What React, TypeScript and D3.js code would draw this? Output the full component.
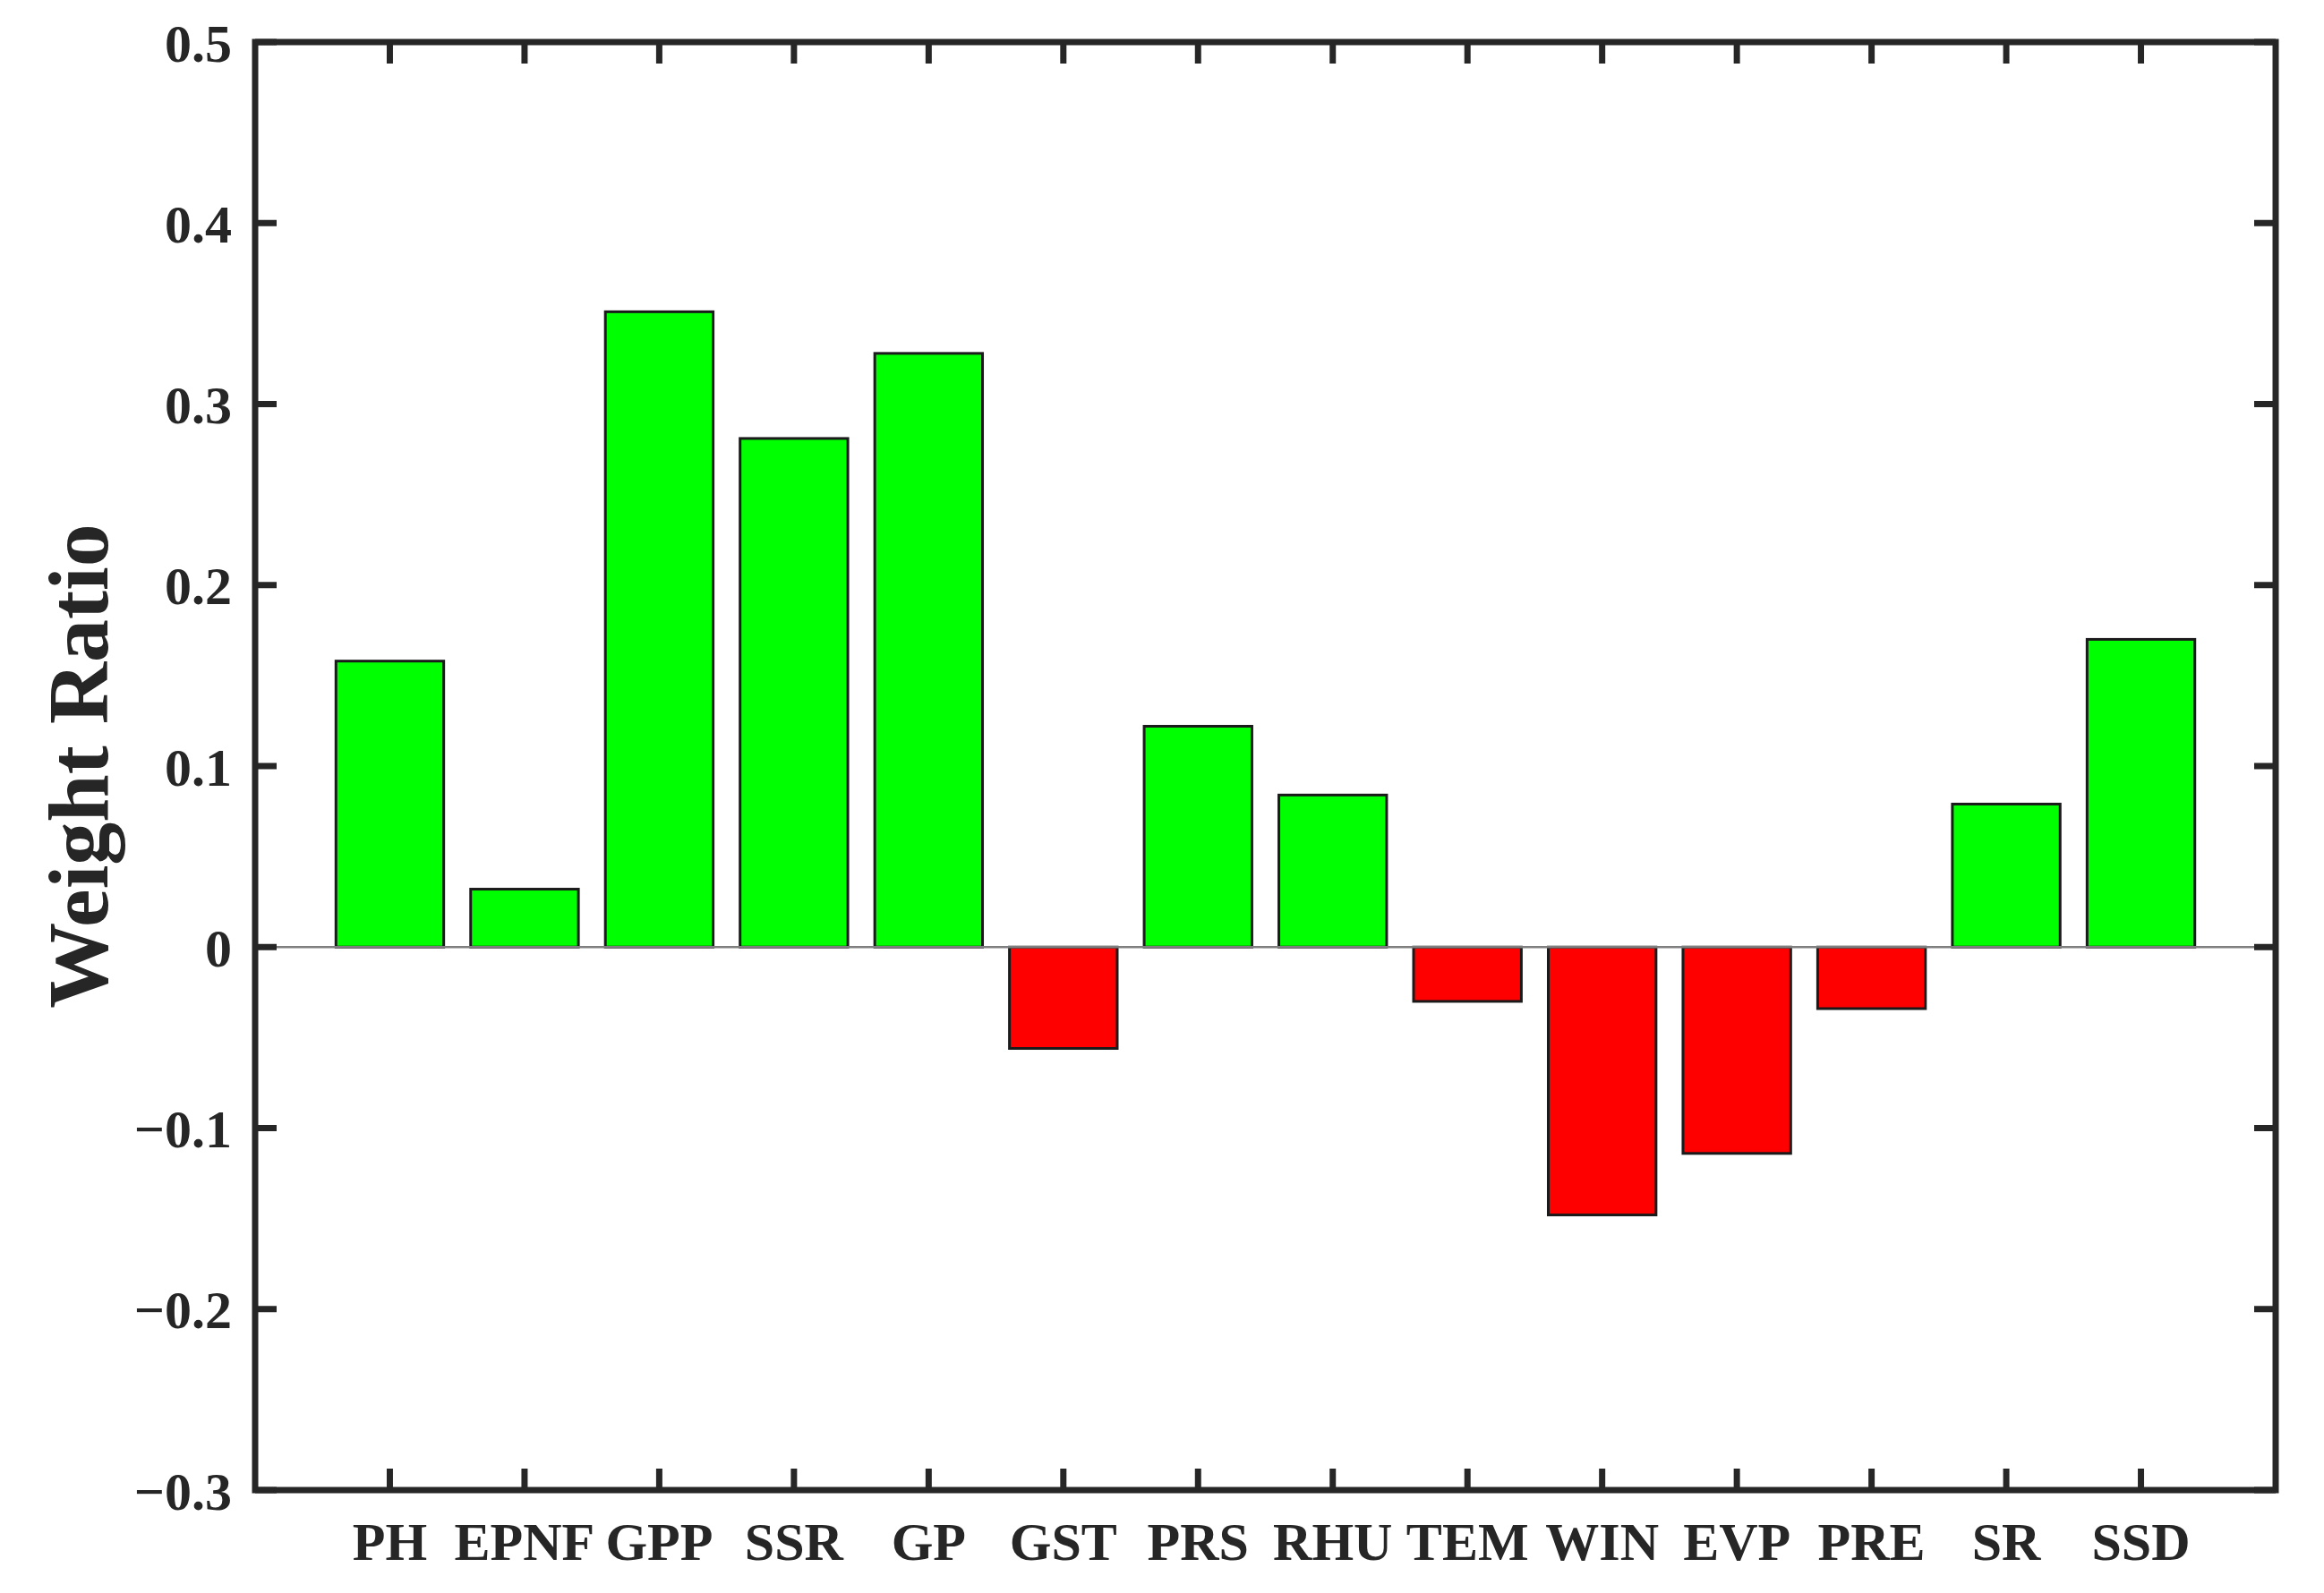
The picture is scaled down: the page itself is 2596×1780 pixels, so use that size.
import React from "react";
import * as d3 from "d3";

const categories = ["PH", "EPNF", "GPP", "SSR", "GP", "GST", "PRS", "RHU", "TEM", "WIN", "EVP", "PRE", "SR", "SSD"];
const weightRatio = [0.158, 0.032, 0.351, 0.281, 0.328, -0.056, 0.122, 0.084, -0.03, -0.148, -0.114, -0.034, 0.079, 0.17];
const yTicks = [-0.3, -0.2, -0.1, 0, 0.1, 0.2, 0.3, 0.4, 0.5];
const yLabel = "Weight Ratio";

const W = 2596;
const H = 1780;
const M = { left: 285, right: 2542, top: 47, bottom: 1665 };
const FONT = "'Liberation Serif', 'Times New Roman', serif";

export default function App() {
  const x = d3.scaleLinear().domain([0, categories.length + 1]).range([M.left, M.right]);
  const y = d3.scaleLinear().domain([-0.3, 0.5]).range([M.bottom, M.top]);
  const bw = x(0.8) - x(0);
  const tickLen = 24;
  const fmt = (v: number) => (v === 0 ? "0" : (v < 0 ? "\u2212" : "") + d3.format(".1f")(Math.abs(v)));

  return (
    <svg width={W} height={H} style={{ position: "absolute", left: 0, top: 0, background: "#fff" }}>
      <rect x={0} y={0} width={W} height={H} fill="#fff" />
      {/* bars */}
      {weightRatio.map((v, i) => {
        const cx = x(i + 1);
        const y0 = y(0);
        const yv = y(v);
        return (
          <rect
            key={categories[i]}
            x={cx - bw / 2}
            y={Math.min(y0, yv)}
            width={bw}
            height={Math.abs(yv - y0)}
            fill={v >= 0 ? "#00ff00" : "#ff0000"}
            stroke="#1a1a1a"
            strokeWidth={3}
          />
        );
      })}
      {/* zero line */}
      <line x1={M.left} x2={M.right} y1={y(0)} y2={y(0)} stroke="#7f7f7f" strokeWidth={2.5} />
      {/* ticks */}
      {yTicks.map((t) => (
        <g key={"yt" + t}>
          <line x1={M.left} x2={M.left + tickLen} y1={y(t)} y2={y(t)} stroke="#262626" strokeWidth={7} />
          <line x1={M.right} x2={M.right - tickLen} y1={y(t)} y2={y(t)} stroke="#262626" strokeWidth={7} />
          <text
            x={M.left - 26}
            y={y(t)}
            dy="0.36em"
            textAnchor="end"
            fontFamily={FONT}
            fontWeight="bold"
            fontSize={60}
            fill="#262626"
          >
            {fmt(t)}
          </text>
        </g>
      ))}
      {categories.map((c, i) => (
        <g key={"xt" + c}>
          <line x1={x(i + 1)} x2={x(i + 1)} y1={M.bottom} y2={M.bottom - tickLen} stroke="#262626" strokeWidth={7} />
          <line x1={x(i + 1)} x2={x(i + 1)} y1={M.top} y2={M.top + tickLen} stroke="#262626" strokeWidth={7} />
          <text
            x={x(i + 1)}
            y={1743}
            textAnchor="middle"
            fontFamily={FONT}
            fontWeight="bold"
            fontSize={60}
            fill="#262626"
          >
            {c}
          </text>
        </g>
      ))}
      {/* box */}
      <rect
        x={M.left}
        y={M.top}
        width={M.right - M.left}
        height={M.bottom - M.top}
        fill="none"
        stroke="#262626"
        strokeWidth={7}
      />
      {/* y label */}
      <text
        transform={`translate(120, ${(M.top + M.bottom) / 2}) rotate(-90)`}
        textAnchor="middle"
        fontFamily={FONT}
        fontWeight="bold"
        fontSize={96}
        fill="#262626"
      >
        {yLabel}
      </text>
    </svg>
  );
}
